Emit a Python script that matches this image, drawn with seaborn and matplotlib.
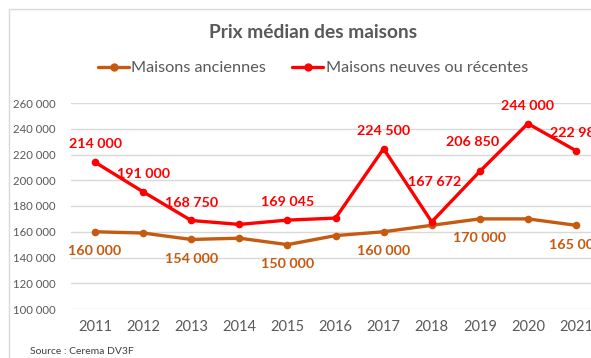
import matplotlib
matplotlib.use("Agg")
import matplotlib.pyplot as plt
from matplotlib.patches import Rectangle
import seaborn as sns
import pandas as pd

years = [2011, 2012, 2013, 2014, 2015, 2016, 2017, 2018, 2019, 2020, 2021]
anciennes = [160000, 159000, 154000, 155000, 150000, 157000, 160000, 165000, 170000, 170000, 165000]
neuves = [214000, 191000, 168750, 165700, 169045, 170600, 224500, 167672, 206850, 244000, 222980]
labels_anciennes = [2011, 2013, 2015, 2017, 2019, 2021]
labels_neuves = [2011, 2012, 2013, 2015, 2017, 2018, 2019, 2020, 2021]
serie_anciennes = "Maisons anciennes"
serie_neuves = "Maisons neuves ou récentes"
title = "Prix médian des maisons"
source = "Source : Cerema DV3F"
yticks = [100000, 120000, 140000, 160000, 180000, 200000, 220000, 240000, 260000]

ORANGE = "#C55A11"
RED = "#FF0000"
GRAY = "#595959"

sns.set_theme(style="white")
plt.rcParams["font.family"] = ["Lato", "DejaVu Sans"]

df = pd.DataFrame({
    "annee": years * 2,
    "prix": anciennes + neuves,
    "serie": [serie_anciennes] * len(years) + [serie_neuves] * len(years),
})

W, H = 591, 358
fig = plt.figure(figsize=(W / 100, H / 100), dpi=100)
fig.patch.set_facecolor("white")

# chart area frame
fig.patches.append(Rectangle((9 / W, -0.2), 1.2, 1 - 9 / H + 0.2, transform=fig.transFigure,
                             fill=False, edgecolor="#D9D9D9", linewidth=1.0))

ax = fig.add_axes([71 / W, 1 - 309 / H, 529 / W, 206 / H])
sns.lineplot(data=df, x="annee", y="prix", hue="serie", palette=[ORANGE, RED],
             marker="o", markersize=5.5, markeredgewidth=0, linewidth=2.4,
             ax=ax, legend=False, clip_on=False)

ax.set_xlim(2010.5, 2021.5)
ax.set_ylim(100000, 260000)
ax.set_yticks(yticks)
ax.set_yticklabels([f"{v:,}".replace(",", " ") for v in yticks])
ax.set_xticks(years)
ax.set_xticklabels([str(y) for y in years])
ax.tick_params(axis="y", labelsize=8.2, colors=GRAY, length=0, pad=11)
ax.tick_params(axis="x", labelsize=10.5, colors=GRAY, length=0, pad=8)
ax.set_xlabel("")
ax.set_ylabel("")
for s in ax.spines.values():
    s.set_visible(False)
ax.grid(axis="y", color="#D9D9D9", linewidth=1.0)
ax.set_axisbelow(True)

def fmt(v):
    return f"{v:,}".replace(",", " ")

# data labels: offsets in points, a few moved off the line
offsets_neuves = {2018: (2, 29), 2019: (-5, 21)}

for y, v in zip(years, anciennes):
    if y in labels_anciennes:
        ax.annotate(fmt(v), (y, v), xytext=(0, -14), textcoords="offset points",
                    ha="center", va="center", fontsize=10.3, fontweight="bold",
                    color=ORANGE, annotation_clip=False)
for y, v in zip(years, neuves):
    if y in labels_neuves:
        dx, dy = offsets_neuves.get(y, (0, 12.8))
        ax.annotate(fmt(v), (y, v), xytext=(dx, dy), textcoords="offset points",
                    ha="center", va="center", fontsize=10.3, fontweight="bold",
                    color=RED, annotation_clip=False)

fig.text(313 / W, 1 - 33 / H, title, ha="center", va="center",
         fontsize=13.8, fontweight="bold", color=GRAY)

handles = [plt.Line2D([], [], color=ORANGE, marker="o", markersize=5, linewidth=2.4),
           plt.Line2D([], [], color=RED, marker="o", markersize=5, linewidth=2.4)]
leg = fig.legend(handles, [serie_anciennes, serie_neuves], loc="center",
                 bbox_to_anchor=(313 / W, 1 - 68 / H), ncol=2, frameon=False,
                 fontsize=11.7, handlelength=1.9, handletextpad=0.15, columnspacing=1.6)
for t in leg.get_texts():
    t.set_color(GRAY)

fig.text(30 / W, 1 - 352 / H, source, ha="left", va="center", fontsize=7.5, color="#404040")

fig.savefig("out.png", dpi=100)
